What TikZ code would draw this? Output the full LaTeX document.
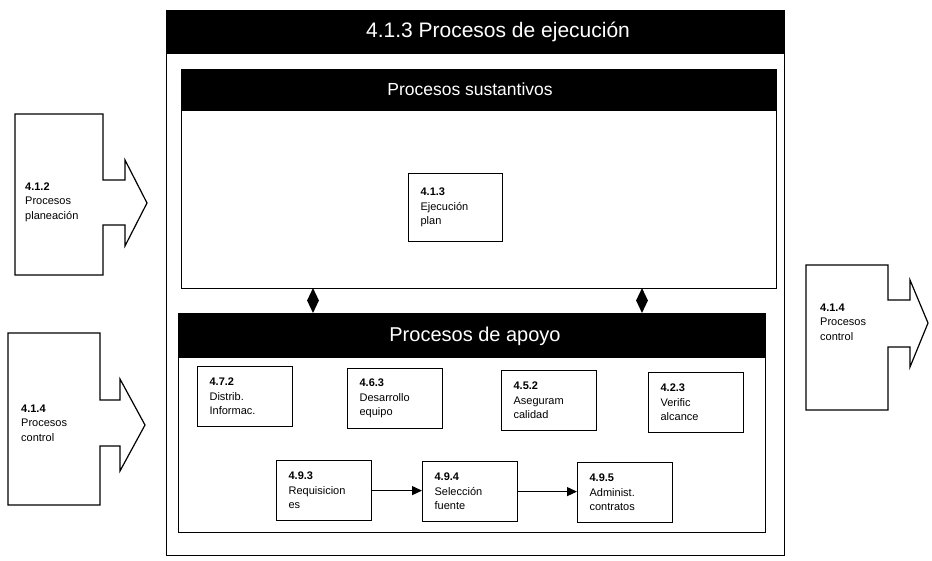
\documentclass[tikz,border=0pt]{standalone}
\usepackage{fontspec}
\setmainfont{Liberation Sans}
\usetikzlibrary{arrows.meta,shapes.geometric}
\begin{document}
\begin{tikzpicture}[x=1pt,y=-1pt,
  frame/.style={draw, line width=1.3pt, inner sep=0pt, anchor=north west},
  bar/.style={fill=black, inner sep=0pt, anchor=north west},
  bartext/.style={text=white, inner sep=0pt},
  box/.style={draw, line width=1.2pt, minimum height=60pt, text width=71pt,
    inner xsep=12pt, inner ysep=0pt, align=left,
    font=\fontsize{11}{14.5}\selectfont, anchor=north west},
  lbl/.style={inner sep=0pt, align=left, anchor=west,
    font=\fontsize{11}{14.5}\selectfont},
  blk/.style={draw, line width=1.2pt, line join=miter},
  arr/.style={line width=1.2pt, -{Triangle[length=10pt,width=9pt]}},
  dia/.style={diamond, fill=black, minimum width=12pt, minimum height=25pt, inner sep=0pt}
]
\useasboundingbox (0,0) rectangle (932,560);

% outer frame
\node[frame, minimum width=618pt, minimum height=545pt] (outer) at (166,10) {};
\node[bar, minimum width=618pt, minimum height=44pt] (outerbar) at (166,10) {};
\node[bartext, font=\fontsize{21}{24}\selectfont] (title) at (498,32) {4.1.3 Procesos de ejecución};

% sustantivos
\node[frame, minimum width=595pt, minimum height=219pt] (sus) at (181,69) {};
\node[bar, minimum width=595pt, minimum height=42pt] (susbar) at (181,69) {};
\node[bartext, font=\fontsize{17.5}{20}\selectfont] (sustitle) at (470,89) {Procesos sustantivos};
\node[box, minimum height=68pt, text width=70pt] (b413) at (408,173) {\textbf{4.1.3}\\Ejecución\\plan};

% apoyo
\node[frame, minimum width=587pt, minimum height=219pt] (apo) at (178,313) {};
\node[bar, minimum width=587pt, minimum height=45pt] (apobar) at (178,313) {};
\node[bartext, font=\fontsize{20}{23}\selectfont] (apotitle) at (475,336) {Procesos de apoyo};

% diamonds
\node[dia] (d1) at (313,300.5) {};
\node[dia] (d2) at (642,300.5) {};

% support boxes
\node[box] (b472) at (197,366) {\textbf{4.7.2}\\Distrib.\\Informac.};
\node[box] (b463) at (347,368) {\textbf{4.6.3}\\Desarrollo\\equipo};
\node[box] (b452) at (501,370) {\textbf{4.5.2}\\Aseguram\\calidad};
\node[box] (b423) at (648,372) {\textbf{4.2.3}\\Verific\\alcance};
\node[box] (b493) at (276,460) {\textbf{4.9.3}\\Requisicion\\es};
\node[box] (b494) at (422,461) {\textbf{4.9.4}\\Selección\\fuente};
\node[box] (b495) at (577,462) {\textbf{4.9.5}\\Administ.\\contratos};

\draw[arr] (b493.east) -- (b493.east -| b494.west);
\draw[arr] (b494.east) -- (b494.east -| b495.west);

% block arrows
\draw[blk] (15,114) -- (103,114) -- (103,180) -- (125,180) -- (125,160) -- (147,203)
  -- (125,246) -- (125,225) -- (103,225) -- (103,275) -- (15,275) -- cycle;
\node[lbl] (t412) at (25,202) {\textbf{4.1.2}\\Procesos\\planeación};

\draw[blk] (8,333) -- (100,333) -- (100,400) -- (120,400) -- (120,379) -- (145,425)
  -- (120,471) -- (120,446) -- (100,446) -- (100,505) -- (8,505) -- cycle;
\node[lbl] (t414a) at (21,423) {\textbf{4.1.4}\\Procesos\\control};

\draw[blk] (806,265) -- (888,265) -- (888,300) -- (910,300) -- (910,280) -- (928,323)
  -- (910,367) -- (910,347) -- (888,347) -- (888,410) -- (806,410) -- cycle;
\node[lbl] (t414b) at (820,322) {\textbf{4.1.4}\\Procesos\\control};

\end{tikzpicture}
\end{document}
